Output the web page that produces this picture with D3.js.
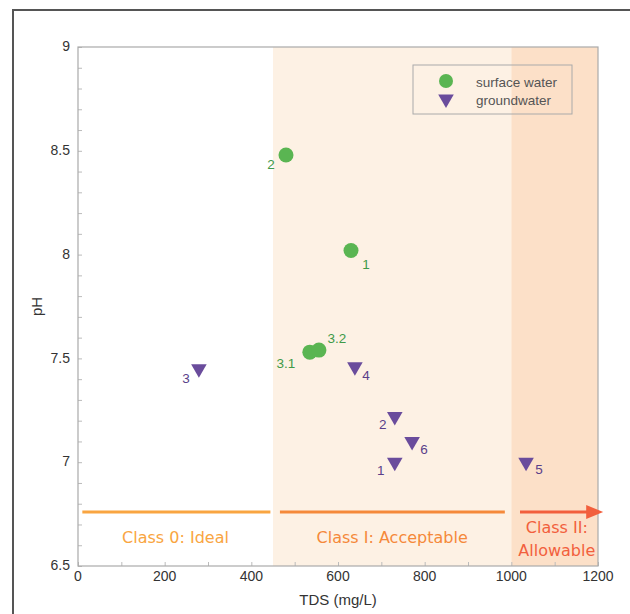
<!DOCTYPE html>
<html>
<head>
<meta charset="utf-8">
<script src="https://cdn.jsdelivr.net/npm/d3@7"></script>
<style>
  body { margin: 0; background: #fff; }
  text { font-family: "Liberation Sans", Arial, sans-serif; }
  .cls { font-family: "DejaVu Sans", sans-serif; }
</style>
</head>
<body>
<script>
// data
var surfaceLabels = ["1", "2", "3.1", "3.2"],
    surfaceTDS = [630, 480, 535, 556],
    surfacePH = [8.02, 8.48, 7.53, 7.54];

var groundLabels = ["1", "2", "3", "4", "5", "6"],
    groundTDS = [731, 731, 279, 639, 1034, 771],
    groundPH = [7.0, 7.22, 7.45, 7.46, 7.0, 7.1];

// class bands (TDS limits)
var classNames = ["Class 0: Ideal", "Class I: Acceptable", "Class II:|Allowable"],
    classFrom = [0, 450, 1000],
    classTo = [450, 1000, 1200];

var xTicks = [0, 200, 400, 600, 800, 1000, 1200],
    yTicks = [6.5, 7, 7.5, 8, 8.5, 9];

// label offsets (px) for point numbers
var surfaceOff = [[15, 14], [-15, 9], [-24, 11], [18, -12]],
    groundOff = [[-14, 8], [-12, 8], [-13, 9], [11, 9], [13, 7], [12, 8]];

var W = 630, H = 614;
var margin = {top: 47, right: 32, bottom: 48, left: 78},
    width = W - margin.left - margin.right,
    height = H - margin.top - margin.bottom;

var xScale = d3.scaleLinear().domain([0, 1200]).range([0, width]),
    yScale = d3.scaleLinear().domain([6.5, 9]).range([height, 0]);

var svgRoot = d3.select("body").append("svg")
    .attr("width", W)
    .attr("height", H);

// outer frame
svgRoot.append("rect")
    .attr("x", 13).attr("y", 10)
    .attr("width", 640).attr("height", 640)
    .attr("fill", "none")
    .attr("stroke", "#555")
    .attr("stroke-width", 2);

var svg = svgRoot.append("g")
    .attr("transform", "translate(" + margin.left + "," + margin.top + ")");

// shaded class bands
var bandFill = ["none", "#fdf1e4", "#fce0c8"];
svg.selectAll(".band")
   .data(d3.range(3))
   .enter().append("rect")
   .attr("class", "band")
   .attr("x", i => xScale(classFrom[i]))
   .attr("width", i => xScale(classTo[i]) - xScale(classFrom[i]))
   .attr("y", 0)
   .attr("height", height)
   .attr("fill", i => bandFill[i]);

// axes with inward ticks
var yAxis = d3.axisLeft(yScale)
    .tickValues(d3.range(65, 91).map(v => v / 10))
    .tickSize(-4)
    .tickFormat("");
var xAxis = d3.axisBottom(xScale)
    .tickValues(d3.range(0, 1201, 100))
    .tickSize(-4)
    .tickFormat("");

svg.append("g").attr("class", "y axis").call(yAxis);
svg.append("g").attr("class", "x axis")
   .attr("transform", "translate(0," + height + ")")
   .call(xAxis);
svg.selectAll(".axis path").attr("stroke", "none");
svg.selectAll(".axis line").attr("stroke", "#bbb");

// plot border
svg.append("rect")
   .attr("width", width).attr("height", height)
   .attr("fill", "none")
   .attr("stroke", "#aaa")
   .attr("stroke-width", 1.2);

// tick labels
svg.selectAll(".ylab")
   .data(yTicks)
   .enter().append("text")
   .attr("x", -8)
   .attr("y", d => yScale(d))
   .attr("dy", "0.3em")
   .attr("text-anchor", "end")
   .attr("font-size", 14)
   .attr("fill", "#333")
   .text(d => d);

svg.selectAll(".xlab")
   .data(xTicks)
   .enter().append("text")
   .attr("x", d => xScale(d))
   .attr("y", height + 15)
   .attr("text-anchor", "middle")
   .attr("font-size", 14)
   .attr("fill", "#333")
   .text(d => d);

// axis titles
svg.append("text")
   .attr("transform", "translate(-36," + (height / 2) + ") rotate(-90)")
   .attr("text-anchor", "middle")
   .attr("font-size", 15)
   .attr("fill", "#333")
   .text("pH");

svg.append("text")
   .attr("x", width / 2)
   .attr("y", height + 39)
   .attr("text-anchor", "middle")
   .attr("font-size", 15)
   .attr("fill", "#333")
   .text("TDS (mg/L)");

// class lines and labels
var classColor = ["#f9a541", "#f5893a", "#f25f3d"],
    lineFrom = [10, 466, 1020],
    lineTo = [444, 985, 1180],
    lineY = 6.76;

svg.selectAll(".cline")
   .data(d3.range(3))
   .enter().append("line")
   .attr("x1", i => xScale(lineFrom[i]))
   .attr("x2", i => xScale(lineTo[i]))
   .attr("y1", yScale(lineY))
   .attr("y2", yScale(lineY))
   .attr("stroke", i => classColor[i])
   .attr("stroke-width", 3);

// arrow head on class II
var tipX = xScale(1212), tipY = yScale(lineY);
svg.append("path")
   .attr("d", "M" + tipX + "," + tipY + "L" + (tipX - 17) + "," + (tipY - 7) +
              "L" + (tipX - 17) + "," + (tipY + 7) + "Z")
   .attr("fill", classColor[2]);

var classX = [225, 725, 1105];
classNames.forEach((name, i) => {
  var parts = name.split("|");
  var t = svg.append("text")
     .attr("class", "cls")
     .attr("text-anchor", "middle")
     .attr("font-size", 16)
     .attr("fill", classColor[i]);
  parts.forEach((p, j) => {
    t.append("tspan")
     .attr("x", xScale(classX[i]))
     .attr("y", yScale(parts.length > 1 ? 6.66 : 6.61) + j * 23)
     .text(p);
  });
});

// points
var green = "#5ab552", purple = "#6a4c9c";
var tri = d3.symbol().type(d3.symbolTriangle).size(105);

svg.selectAll(".sw")
   .data(d3.range(surfaceTDS.length))
   .enter().append("circle")
   .attr("cx", i => xScale(surfaceTDS[i]))
   .attr("cy", i => yScale(surfacePH[i]))
   .attr("r", 7.5)
   .attr("fill", green);

svg.selectAll(".gw")
   .data(d3.range(groundTDS.length))
   .enter().append("path")
   .attr("d", tri)
   .attr("transform", i => "translate(" + xScale(groundTDS[i]) + "," + yScale(groundPH[i]) + ") rotate(180)")
   .attr("fill", purple);

svg.selectAll(".swl")
   .data(d3.range(surfaceTDS.length))
   .enter().append("text")
   .attr("x", i => xScale(surfaceTDS[i]) + surfaceOff[i][0])
   .attr("y", i => yScale(surfacePH[i]) + surfaceOff[i][1])
   .attr("dy", "0.35em")
   .attr("text-anchor", "middle")
   .attr("font-size", 13.5)
   .attr("fill", "#3f9a48")
   .text(i => surfaceLabels[i]);

svg.selectAll(".gwl")
   .data(d3.range(groundTDS.length))
   .enter().append("text")
   .attr("x", i => xScale(groundTDS[i]) + groundOff[i][0])
   .attr("y", i => yScale(groundPH[i]) + groundOff[i][1])
   .attr("dy", "0.35em")
   .attr("text-anchor", "middle")
   .attr("font-size", 13.5)
   .attr("fill", "#5a3f8a")
   .text(i => groundLabels[i]);

// legend
var legend = svg.append("g")
   .attr("transform", "translate(" + (413 - margin.left) + "," + (65 - margin.top) + ")");
legend.append("rect")
   .attr("width", 159).attr("height", 49)
   .attr("fill", "none")
   .attr("stroke", "#aaa");
legend.append("circle")
   .attr("cx", 33).attr("cy", 16).attr("r", 7)
   .attr("fill", green);
legend.append("path")
   .attr("d", tri)
   .attr("transform", "translate(33,34) rotate(180)")
   .attr("fill", purple);
legend.append("text")
   .attr("x", 63).attr("y", 17).attr("dy", "0.35em")
   .attr("font-size", 13.5).attr("fill", "#555")
   .text("surface water");
legend.append("text")
   .attr("x", 63).attr("y", 35).attr("dy", "0.35em")
   .attr("font-size", 13.5).attr("fill", "#555")
   .text("groundwater");
</script>
</body>
</html>
